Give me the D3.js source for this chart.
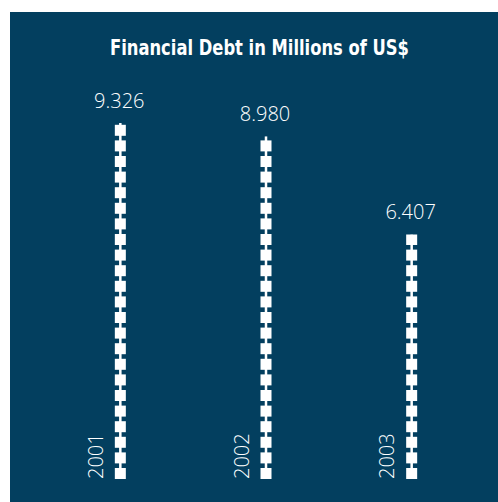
<!DOCTYPE html>
<html><head><meta charset="utf-8">
<script src="https://cdn.jsdelivr.net/npm/d3@7"></script>
<style>html,body{margin:0;padding:0;background:#fff;}svg{display:block;}</style>
</head><body>
<script>
const years = ["2001", "2002", "2003"];
const values = [9.326, 8.980, 6.407];
const valueLabels = ["9.326", "8.980", "6.407"];
const title = "Financial Debt in Millions of US$";

const W = 498, H = 502;
const bg = "#033f5f";
const svg = d3.select("body").append("svg").attr("width", W).attr("height", H);
svg.append("rect").attr("x", 10).attr("y", 12).attr("width", W - 10).attr("height", H - 12).attr("fill", bg);

svg.append("text").attr("x", 259.5).attr("y", 55).attr("text-anchor", "middle")
  .attr("fill", "#fff").attr("font-family", "'Liberation Sans Narrow','DejaVu Sans Condensed',sans-serif")
  .attr("font-weight", "bold").attr("font-size", 21)
  .attr("textLength", 299).attr("lengthAdjust", "spacingAndGlyphs").text(title);

const x = d3.scaleBand().domain(years).range([47.5, 484.5]);
const base = 479;
const y = d3.scaleLinear().domain([0, 10]).range([base, base - 381.7]);

const boxW = 11, boxH = 11, period = 15.6, lineW = 2.5;

const g = svg.selectAll("g.bar").data(years.map((yr, i) => ({yr, v: values[i], lab: valueLabels[i]})))
  .enter().append("g").attr("class", "bar");

g.each(function(d, i) {
  const sel = d3.select(this);
  const cx = x(d.yr) + x.bandwidth() / 2;
  const top = y(d.v);
  const cid = "clip" + i;
  svg.append("clipPath").attr("id", cid).append("rect")
    .attr("x", cx - 20).attr("y", top).attr("width", 40).attr("height", base - top);
  const inner = sel.append("g").attr("clip-path", `url(#${cid})`);
  inner.append("rect").attr("x", cx - lineW / 2).attr("y", top).attr("width", lineW)
    .attr("height", base - top).attr("fill", "#fff");
  const n = Math.ceil((base - top) / period) + 1;
  inner.selectAll("rect.box").data(d3.range(n)).enter().append("rect").attr("class", "box")
    .attr("x", cx - boxW / 2).attr("y", k => base - boxH - k * period)
    .attr("width", boxW).attr("height", boxH).attr("fill", "#fff");
  sel.append("text").attr("x", cx - 1).attr("y", top - 15).attr("text-anchor", "middle")
    .attr("fill", "#fff").attr("font-family", "'Open Sans',sans-serif").attr("font-weight", 300)
    .attr("font-size", 20).text(d.lab);
  sel.append("text").attr("transform", `translate(${cx - 17.5},${base}) rotate(-90)`)
    .attr("text-anchor", "start").attr("fill", "#fff")
    .attr("font-family", "'Open Sans',sans-serif").attr("font-weight", 300)
    .attr("font-size", 20).text(d.yr);
});
</script>
</body></html>
